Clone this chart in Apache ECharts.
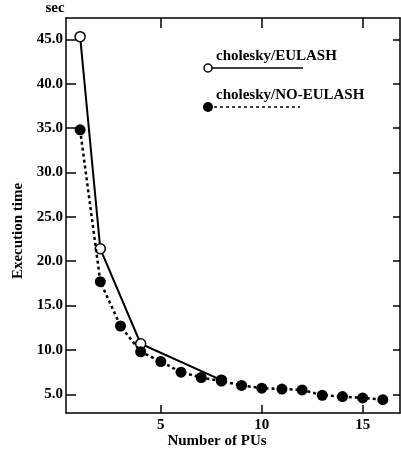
<!DOCTYPE html>
<html lang="en">
<head>
    <meta charset="UTF-8">
    <title>cholesky execution time</title>
    <script src="https://cdn.jsdelivr.net/npm/echarts@6/dist/echarts.min.js"></script>
    <style>
        html, body, #main {
            padding: 0;
            margin: 0;
            width: 100%;
            height: 100%;
            background: #fff;
        }
    </style>
</head>
<body>
    <div id="main"></div>
    <script type="text/javascript">
        // data
        var eulashPUs = [1, 2, 4, 8];
        var eulashTime = [45.3, 21.4, 10.7, 6.6];
        var noEulashPUs = [1, 2, 3, 4, 5, 6, 7, 8, 9, 10, 11, 12, 13, 14, 15, 16];
        var noEulashTime = [34.8, 17.7, 12.7, 9.8, 8.7, 7.5, 6.9, 6.5, 6.0, 5.7, 5.6, 5.5, 4.9, 4.75, 4.6, 4.4];
        var xTicks = [5, 10, 15];
        var yTicks = [5, 10, 15, 20, 25, 30, 35, 40, 45];

        var font = 'bold 15px "Liberation Serif", "DejaVu Serif", serif';
        var fam = '"Liberation Serif", "DejaVu Serif", serif';

        function pairs(xs, ys) {
            return xs.map(function (x, i) { return [x, ys[i]]; });
        }

        var chart = echarts.init(document.getElementById('main'));

        var xBase = {
            type: 'value', min: 0.3, max: 16.85,
            axisLine: { lineStyle: { color: '#000', width: 1.5 } },
            splitLine: { show: false }
        };
        var yBase = {
            type: 'value', min: 2.9, max: 47.4,
            axisLine: { lineStyle: { color: '#000', width: 1.5 } },
            splitLine: { show: false }
        };

        var option = {
            backgroundColor: '#fff',
            animation: false,
            grid: { left: 66, top: 18, right: 1, bottom: 40 },
            xAxis: [
                Object.assign({}, xBase, {
                    position: 'bottom',
                    axisTick: { inside: true, length: 8, customValues: xTicks, lineStyle: { color: '#000', width: 1.5 } },
                    axisLabel: { customValues: xTicks, margin: 5, color: '#000', fontFamily: fam, fontWeight: 'bold', fontSize: 15 }
                }),
                Object.assign({}, xBase, {
                    position: 'top',
                    axisTick: { inside: true, length: 10, customValues: xTicks, lineStyle: { color: '#000', width: 1.5 } },
                    axisLabel: { show: false }
                })
            ],
            yAxis: [
                Object.assign({}, yBase, {
                    position: 'left',
                    axisTick: { inside: true, length: 10, customValues: yTicks, lineStyle: { color: '#000', width: 1.5 } },
                    axisLabel: {
                        customValues: yTicks, margin: 3, color: '#000', fontFamily: fam, fontWeight: 'bold', fontSize: 15,
                        formatter: function (v) { return v.toFixed(1); }
                    }
                }),
                Object.assign({}, yBase, {
                    position: 'right',
                    axisTick: { inside: true, length: 7, customValues: yTicks, lineStyle: { color: '#000', width: 1.5 } },
                    axisLabel: { show: false }
                })
            ],
            series: [
                {
                    name: 'cholesky/EULASH',
                    type: 'line',
                    data: pairs(eulashPUs, eulashTime),
                    symbol: 'circle',
                    symbolSize: 10,
                    z: 2,
                    lineStyle: { color: '#000', width: 2 },
                    itemStyle: { color: '#fff', borderColor: '#000', borderWidth: 1.5 }
                },
                {
                    name: 'cholesky/NO-EULASH',
                    type: 'line',
                    data: pairs(noEulashPUs, noEulashTime),
                    symbol: 'circle',
                    symbolSize: 11,
                    z: 3,
                    lineStyle: { color: '#000', width: 2.5, type: [3, 3] },
                    itemStyle: { color: '#000', borderColor: '#000', borderWidth: 0 }
                }
            ],
            graphic: [
                // axis titles
                { type: 'text', x: 55, y: 8, style: { text: 'sec', font: font, fill: '#000', align: 'center', verticalAlign: 'middle' } },
                { type: 'text', x: 18, y: 231, rotation: Math.PI / 2, style: { text: 'Execution time', font: font, fill: '#000', align: 'center', verticalAlign: 'middle' } },
                { type: 'text', x: 217, y: 441, style: { text: 'Number of PUs', font: font, fill: '#000', align: 'center', verticalAlign: 'middle' } },
                // legend
                { type: 'text', x: 216, y: 56, style: { text: 'cholesky/EULASH', font: font, fill: '#000', align: 'left', verticalAlign: 'middle' } },
                { type: 'line', shape: { x1: 208, y1: 68, x2: 303, y2: 68 }, style: { stroke: '#000', lineWidth: 1.5 } },
                { type: 'circle', shape: { cx: 208, cy: 68, r: 4 }, style: { fill: '#fff', stroke: '#000', lineWidth: 1.5 } },
                { type: 'text', x: 216, y: 95, style: { text: 'cholesky/NO-EULASH', font: font, fill: '#000', align: 'left', verticalAlign: 'middle' } },
                { type: 'line', shape: { x1: 208, y1: 107, x2: 300, y2: 107 }, style: { stroke: '#000', lineWidth: 1.5, lineDash: [3, 3] } },
                { type: 'circle', shape: { cx: 208, cy: 107, r: 5 }, style: { fill: '#000' } }
            ]
        };

        chart.setOption(option);
    </script>
</body>
</html>
